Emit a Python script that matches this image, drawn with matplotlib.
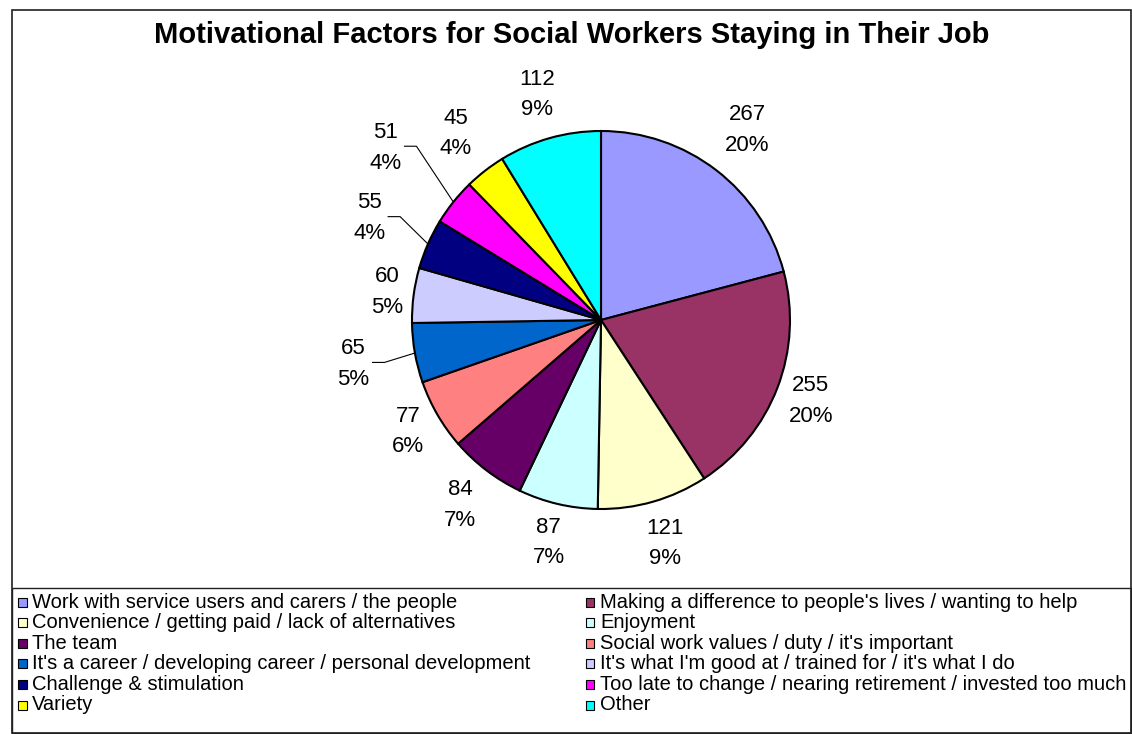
import matplotlib
matplotlib.use("Agg")
import matplotlib.pyplot as plt
import numpy as np
from matplotlib.patches import Rectangle

plt.rcParams["font.family"] = ["Liberation Sans", "DejaVu Sans"]

# Survey responses, clockwise from 12 o'clock
factors = [
  "Work with service users and carers / the people",
  "Making a difference to people's lives / wanting to help",
  "Convenience / getting paid / lack of alternatives",
  "Enjoyment",
  "The team",
  "Social work values / duty / it's important",
  "It's a career / developing career / personal development",
  "It's what I'm good at / trained for / it's what I do",
  "Challenge & stimulation",
  "Too late to change / nearing retirement / invested too much",
  "Variety",
  "Other",
]
counts = [267, 255, 121, 87, 84, 77, 65, 60, 55, 51, 45, 112]
pct_labels = ["20%", "20%", "9%", "7%", "7%", "6%", "5%", "5%", "4%", "4%", "4%", "9%"]
colors = ["#9999FF", "#993366", "#FFFFCC", "#CCFFFF", "#660066", "#FF8080",
          "#0066CC", "#CCCCFF", "#000080", "#FF00FF", "#FFFF00", "#00FFFF"]

# label radius (in pie radii) and which labels get a leader line
label_dist = [1.27, 1.19, 1.23, 1.21, 1.23, 1.18, 1.33, 1.14, 1.34, 1.46, 1.25, 1.24]
leader = [False, False, False, False, False, False, True, False, True, True, False, False]

W, H = 1132, 734
fig = plt.figure(figsize=(W / 100, H / 100), dpi=100)


def fx(px):
  return px / W


def fy(py):
  return 1 - py / H


# outer chart frame and legend frame
fig.patches.append(Rectangle((fx(12), fy(733)), fx(1131) - fx(12), fy(10) - fy(733),
                             transform=fig.transFigure, fill=False, ec="#202020", lw=1.2))
fig.patches.append(Rectangle((fx(12), fy(733)), fx(1131) - fx(12), fy(588) - fy(733),
                             transform=fig.transFigure, fill=False, ec="#202020", lw=1.0))

fig.text(fx(572), fy(35), "Motivational Factors for Social Workers Staying in Their Job",
         ha="center", va="center", fontsize=21, fontweight="bold")

# pie axes: centre at (601, 320) px, radius 189 px
R = 189
span = 1.6
side = 2 * span * R
ax = fig.add_axes([fx(601 - side / 2), fy(320 + side / 2), side / W, side / H])

wedges, _ = ax.pie(counts, colors=colors, startangle=90, counterclock=False,
                   wedgeprops=dict(edgecolor="black", linewidth=1.5))
ax.set_xlim(-span, span)
ax.set_ylim(-span, span)
ax.axis("off")

for w, n, p, d, ld in zip(wedges, counts, pct_labels, label_dist, leader):
  mid = np.deg2rad((w.theta1 + w.theta2) / 2)
  lx, ly = d * np.cos(mid), d * np.sin(mid)
  ax.text(lx, ly, f"{n}\n{p}", ha="center", va="center", fontsize=16, linespacing=1.6)
  if ld:
    ex, ey = np.cos(mid), np.sin(mid)
    bx, by = lx + 31 / R, ly + 1.5 / R
    cx = lx + 19 / R
    ax.plot([ex, bx, cx], [ey, by, by], color="black", lw=0.8)

# legend laid out row-major in two columns
col_x = [22, 590]
row_y0, row_dy = 602, 20.6
for i, (name, c) in enumerate(zip(factors, colors)):
  r, k = divmod(i, 2)
  x = col_x[k]
  y = row_y0 + r * row_dy
  fig.patches.append(Rectangle((fx(x - 4.5), fy(y + 4.5)), 9 / W, 9 / H,
                               transform=fig.transFigure, fc=c, ec="black", lw=0.8))
  fig.text(fx(x + 10), fy(y), name, ha="left", va="center", fontsize=14.5)

fig.savefig("out.png", dpi=100)
